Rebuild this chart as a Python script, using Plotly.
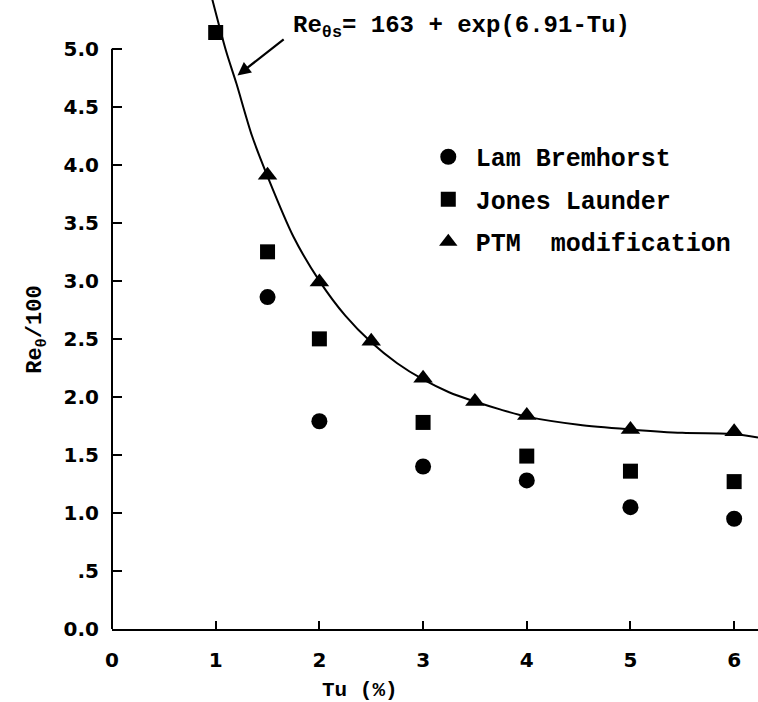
import plotly.graph_objects as go

# ---- data ----
tu_lam = [1.5, 2.0, 3.0, 4.0, 5.0, 6.0]
re_lam = [2.86, 1.79, 1.40, 1.28, 1.05, 0.95]

tu_jones = [1.0, 1.5, 2.0, 3.0, 4.0, 5.0, 6.0]
re_jones = [5.14, 3.25, 2.50, 1.78, 1.49, 1.36, 1.27]

tu_ptm = [1.5, 2.0, 2.5, 3.0, 3.5, 4.0, 5.0, 6.0]
re_ptm = [3.91, 2.99, 2.48, 2.16, 1.96, 1.84, 1.72, 1.70]

tu_curve = [0.96, 1.1, 1.2, 1.35, 1.5, 1.75, 2.0, 2.25, 2.5, 2.75, 3.0, 3.25, 3.5,
            3.75, 4.0, 4.5, 5.0, 5.5, 6.0, 6.23]
re_curve = [5.45, 4.98, 4.70, 4.25, 3.90, 3.38, 3.00, 2.70, 2.47, 2.29, 2.15, 2.04, 1.96,
            1.89, 1.83, 1.76, 1.72, 1.69, 1.68, 1.65]

y_tickvals = [0.0, 0.5, 1.0, 1.5, 2.0, 2.5, 3.0, 3.5, 4.0, 4.5, 5.0]
y_ticktext = ["0.0", ".5", "1.0", "1.5", "2.0", "2.5", "3.0", "3.5", "4.0", "4.5", "5.0"]
x_tickvals = [0, 1, 2, 3, 4, 5, 6]
x_ticktext = ["0", "1", "2", "3", "4", "5", "6"]

XMAX = 6.23
YMAX = 5.42
YAXIS_TOP = 5.0

MONO = "Liberation Mono"
TICKFONT = dict(family="DejaVu Sans", size=20, color="black", weight="bold")

fig = go.Figure()

fig.add_trace(go.Scatter(x=tu_curve, y=re_curve, mode="lines",
                         line=dict(color="black", width=2, shape="spline", smoothing=0.8),
                         showlegend=False, hoverinfo="skip"))

fig.add_trace(go.Scatter(x=tu_lam, y=re_lam, mode="markers", name="Lam Bremhorst",
                         legendgroup="a",
                         marker=dict(symbol="circle", size=16, color="black")))
fig.add_trace(go.Scatter(x=tu_jones, y=re_jones, mode="markers", name="Jones Launder",
                         legendgroup="b",
                         marker=dict(symbol="square", size=15, color="black")))
fig.add_trace(go.Scatter(x=tu_ptm, y=re_ptm, mode="markers", name="PTM  modification",
                         legendgroup="c",
                         marker=dict(symbol="triangle-up", size=17, color="black")))

fig.update_layout(
    width=758, height=702,
    margin=dict(l=112, r=0, t=0, b=73),
    paper_bgcolor="white", plot_bgcolor="white",
    font=dict(family=MONO, color="black"),
    showlegend=True,
    legend=dict(x=0.478, y=0.787, xanchor="left", yanchor="top",
                font=dict(family=MONO, size=25, color="black", weight="bold"),
                bgcolor="rgba(0,0,0,0)", tracegroupgap=7, itemwidth=45),
    xaxis=dict(range=[0, XMAX], showline=True, linecolor="black", linewidth=2,
               ticks="inside", ticklen=8, tickwidth=2, tickcolor="black",
               tickvals=x_tickvals, ticktext=x_ticktext, tickfont=TICKFONT,
               ticklabelstandoff=12,
               showgrid=False, zeroline=False),
    yaxis=dict(range=[0, YMAX], showline=False,
               ticks="inside", ticklen=10, tickwidth=2, tickcolor="black",
               tickvals=y_tickvals, ticktext=y_ticktext, tickfont=TICKFONT,
               ticklabelstandoff=12,
               showgrid=False, zeroline=False),
)

# y-axis line only up to 5.0, as in the reference
fig.add_shape(type="line", xref="paper", yref="paper", x0=0, x1=0,
              y0=0, y1=YAXIS_TOP / YMAX, line=dict(color="black", width=2))

# axis titles
fig.add_annotation(xref="paper", yref="paper", x=-0.14, y=0.475, textangle=-90,
                   text="Re<sub>θ</sub>/100", showarrow=False,
                   font=dict(family=MONO, size=22, color="black", weight="bold"))
fig.add_annotation(xref="x", yref="paper", x=2.39, y=-0.097, yanchor="middle",
                   text="Tu (%)", showarrow=False,
                   font=dict(family=MONO, size=21, color="black", weight="bold"))

# formula label + arrow
fig.add_annotation(xref="x", yref="y", x=1.73, y=5.19, xanchor="left", yanchor="middle",
                   text="Re<sub>θs</sub>= 163 + exp(6.91-Tu)", showarrow=False,
                   font=dict(family=MONO, size=24, color="black", weight="bold"))
fig.add_annotation(xref="x", yref="y", x=1.21, y=4.77, axref="x", ayref="y",
                   ax=1.67, ay=5.09, text="", showarrow=True,
                   arrowhead=2, arrowsize=1.2, arrowwidth=2.2, arrowcolor="black")

fig.write_html("out.html")
